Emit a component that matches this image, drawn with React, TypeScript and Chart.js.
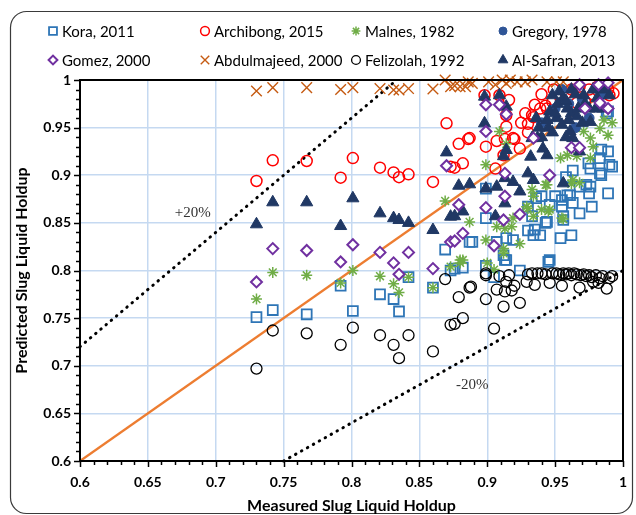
import React, { useEffect, useRef } from 'react';
import { Chart, registerables } from 'chart.js';
import * as helpers from 'chart.js/helpers';

Chart.register(...registerables);

type P = [number, number];

const kora: P[] = [
  [0.730, 0.751], [0.742, 0.7585], [0.767, 0.754], [0.792, 0.784], [0.801, 0.7575],
  [0.821, 0.775], [0.831, 0.770], [0.835, 0.757], [0.842, 0.793], [0.860, 0.782],
  [0.869, 0.822], [0.873, 0.800], [0.876, 0.802], [0.882, 0.803], [0.887, 0.830],
  [0.899, 0.805], [0.905, 0.793], [0.899, 0.855], [0.899, 0.886], [0.913, 0.811],
  [0.912, 0.816], [0.914, 0.834], [0.919, 0.832], [0.924, 0.800], [0.907, 0.830],
  [0.889, 0.830], [0.930, 0.842], [0.934, 0.837], [0.939, 0.837], [0.933, 0.857],
  [0.944, 0.851], [0.940, 0.878], [0.950, 0.878], [0.955, 0.874], [0.959, 0.879],
  [0.963, 0.871], [0.955, 0.867], [0.968, 0.860], [0.956, 0.857], [0.962, 0.837],
  [0.954, 0.834], [0.977, 0.867], [0.975, 0.881], [0.989, 0.881], [0.983, 0.902],
  [0.976, 0.907], [0.983, 0.918], [0.992, 0.909], [0.976, 0.888], [0.988, 0.965],
  [0.989, 0.925], [0.984, 0.927], [0.968, 0.888], [0.946, 0.811], [0.973, 0.890],
  [0.961, 0.879], [0.946, 0.869], [0.943, 0.850], [0.935, 0.843], [0.930, 0.867],
  [0.936, 0.876], [0.914, 0.811], [0.945, 0.809], [0.956, 0.853], [0.989, 0.967],
  [0.990, 0.911], [0.984, 0.900], [0.9745, 0.9125], [0.963, 0.905], [0.958, 0.898],
];

const archibong: P[] = [
  [0.730, 0.894], [0.742, 0.9157], [0.767, 0.915], [0.792, 0.8975], [0.801, 0.918],
  [0.821, 0.908], [0.831, 0.903], [0.835, 0.898], [0.842, 0.901], [0.860, 0.893],
  [0.870, 0.9545], [0.873, 0.909], [0.876, 0.908], [0.879, 0.933], [0.882, 0.9125],
  [0.886, 0.938], [0.887, 0.939], [0.899, 0.930], [0.906, 0.907], [0.907, 0.936],
  [0.913, 0.938], [0.920, 0.938], [0.924, 0.928], [0.914, 0.951], [0.912, 0.921],
  [0.914, 0.963], [0.916, 0.979], [0.909, 0.984], [0.898, 0.984], [0.930, 0.945],
  [0.930, 0.954], [0.933, 0.963], [0.934, 0.961], [0.935, 0.974], [0.939, 0.970],
  [0.943, 0.973], [0.944, 0.970], [0.948, 0.977], [0.949, 0.990], [0.954, 0.981],
  [0.958, 0.986], [0.966, 0.976], [0.968, 0.993], [0.972, 0.977], [0.981, 0.993],
  [0.982, 0.988], [0.989, 0.990], [0.990, 0.984], [0.993, 0.986], [0.919, 0.939],
  [0.925, 0.955], [0.928, 0.965], [0.940, 0.985], [0.962, 0.990], [0.975, 0.990],
  [0.978, 0.985],
];

const malnes: P[] = [
  [0.730, 0.770], [0.742, 0.798], [0.767, 0.795], [0.792, 0.787], [0.801, 0.800],
  [0.821, 0.794], [0.831, 0.786], [0.835, 0.777], [0.842, 0.793], [0.860, 0.782],
  [0.869, 0.873], [0.873, 0.804], [0.880, 0.811], [0.882, 0.811], [0.887, 0.851],
  [0.899, 0.911], [0.899, 0.832], [0.905, 0.801], [0.907, 0.846], [0.909, 0.946],
  [0.912, 0.823], [0.912, 0.818], [0.913, 0.844], [0.914, 0.933], [0.918, 0.846],
  [0.919, 0.855], [0.924, 0.828], [0.929, 0.867], [0.930, 0.865], [0.933, 0.885],
  [0.934, 0.878], [0.934, 0.857], [0.940, 0.864], [0.944, 0.890], [0.945, 0.862],
  [0.946, 0.864], [0.943, 0.890], [0.954, 0.918], [0.955, 0.855], [0.956, 0.854],
  [0.959, 0.921], [0.962, 0.891], [0.963, 0.895], [0.966, 0.920], [0.968, 0.892],
  [0.971, 0.946], [0.976, 0.918], [0.976, 0.939], [0.978, 0.930], [0.983, 0.949],
  [0.986, 0.958], [0.989, 0.942], [0.992, 0.955], [0.900, 0.808], [0.880, 0.808],
];

const gregory: P[] = [
  [0.950, 0.970], [0.960, 0.975], [0.970, 0.980], [0.975, 0.960], [0.985, 0.985],
  [0.940, 0.955], [0.955, 0.990], [0.965, 0.950],
];

const gomez: P[] = [
  [0.730, 0.788], [0.742, 0.823], [0.767, 0.821], [0.792, 0.809], [0.801, 0.827],
  [0.821, 0.819], [0.831, 0.808], [0.835, 0.796], [0.842, 0.819], [0.860, 0.802],
  [0.870, 0.910], [0.873, 0.830], [0.876, 0.831], [0.879, 0.869], [0.882, 0.839],
  [0.899, 0.866], [0.899, 0.946], [0.899, 0.974], [0.905, 0.826], [0.909, 0.974],
  [0.912, 0.853], [0.913, 0.878], [0.913, 0.902], [0.914, 0.964], [0.924, 0.859],
  [0.934, 0.939], [0.946, 0.900], [0.962, 0.929], [0.968, 0.929], [0.968, 0.995],
  [0.972, 0.970], [0.982, 0.995], [0.983, 0.976], [0.989, 0.997], [0.989, 0.970],
];

const abdulmajeed: P[] = [
  [0.730, 0.9885], [0.742, 0.992], [0.767, 0.992], [0.792, 0.990], [0.801, 0.992],
  [0.821, 0.991], [0.831, 0.9895], [0.835, 0.9895], [0.842, 0.991], [0.860, 0.9905],
  [0.869, 1.000], [0.873, 0.993], [0.876, 0.994], [0.880, 0.993], [0.884, 0.993],
  [0.886, 0.998], [0.889, 0.9965], [0.901, 0.998], [0.906, 0.995], [0.911, 1.000],
  [0.914, 0.9965], [0.917, 1.000], [0.922, 0.998], [0.928, 0.998], [0.933, 1.000],
  [0.944, 0.998], [0.951, 0.998], [0.956, 0.998],
];

const felizolah: P[] = [
  [0.730, 0.697], [0.742, 0.737], [0.767, 0.734], [0.792, 0.722], [0.801, 0.740],
  [0.821, 0.732], [0.831, 0.722], [0.835, 0.708], [0.842, 0.732], [0.860, 0.715],
  [0.869, 0.791], [0.873, 0.743], [0.876, 0.744], [0.879, 0.772], [0.882, 0.750],
  [0.887, 0.782], [0.888, 0.783], [0.899, 0.797], [0.899, 0.770], [0.899, 0.795],
  [0.905, 0.739], [0.907, 0.780], [0.909, 0.794], [0.912, 0.762], [0.913, 0.778],
  [0.914, 0.788], [0.916, 0.795], [0.918, 0.779], [0.920, 0.784], [0.924, 0.766],
  [0.929, 0.788], [0.930, 0.796], [0.933, 0.797], [0.935, 0.785], [0.937, 0.797],
  [0.940, 0.797], [0.943, 0.796], [0.946, 0.787], [0.948, 0.797], [0.951, 0.797],
  [0.953, 0.796], [0.955, 0.784], [0.956, 0.797], [0.958, 0.796], [0.960, 0.797],
  [0.962, 0.795], [0.964, 0.797], [0.966, 0.796], [0.968, 0.782], [0.969, 0.795],
  [0.971, 0.796], [0.973, 0.794], [0.975, 0.795], [0.977, 0.793], [0.978, 0.788],
  [0.980, 0.795], [0.982, 0.787], [0.983, 0.792], [0.985, 0.794], [0.988, 0.781],
  [0.990, 0.792], [0.992, 0.794],
];

const alSafran: P[] = [
  [0.730, 0.8485], [0.742, 0.8716], [0.767, 0.8716], [0.792, 0.8467], [0.801, 0.8758],
  [0.821, 0.860], [0.831, 0.855], [0.835, 0.853], [0.842, 0.850], [0.860, 0.8425],
  [0.870, 0.924], [0.873, 0.8565], [0.876, 0.857], [0.879, 0.889], [0.882, 0.862],
  [0.887, 0.8905], [0.898, 0.9825], [0.898, 0.9545], [0.899, 0.886], [0.906, 0.857],
  [0.907, 0.888], [0.909, 0.984], [0.912, 0.920], [0.913, 0.897], [0.913, 0.8705],
  [0.914, 0.972], [0.914, 0.9265], [0.919, 0.893], [0.924, 0.883], [0.930, 0.902],
  [0.932, 0.9195], [0.933, 0.939], [0.934, 0.895], [0.936, 0.960], [0.937, 0.939],
  [0.941, 0.928], [0.944, 0.921], [0.946, 0.967], [0.948, 0.984], [0.951, 0.960],
  [0.955, 0.953], [0.956, 0.981], [0.956, 0.8915], [0.959, 0.970], [0.961, 0.946],
  [0.963, 0.939], [0.968, 0.925], [0.971, 0.984], [0.976, 0.956], [0.981, 0.981],
  [0.990, 0.984], [0.952, 0.975], [0.962, 0.965], [0.967, 0.970], [0.975, 0.970],
  [0.985, 0.970], [0.970, 0.955], [0.958, 0.940], [0.945, 0.950], [0.940, 0.940],
  [0.953, 0.988], [0.962, 0.990], [0.958, 0.978], [0.965, 0.985], [0.972, 0.975],
  [0.978, 0.990], [0.950, 0.965], [0.944, 0.958], [0.938, 0.950], [0.960, 0.958],
  [0.966, 0.962], [0.980, 0.970], [0.986, 0.990], [0.948, 0.945],
];

const xTicks = [0.6, 0.65, 0.7, 0.75, 0.8, 0.85, 0.9, 0.95, 1];
const yTicks = [0.6, 0.65, 0.7, 0.75, 0.8, 0.85, 0.9, 0.95, 1];
const xTickLabels = ['0.6', '0.65', '0.7', '0.75', '0.8', '0.85', '0.9', '0.95', '1'];
const yTickLabels = ['0.6', '0.65', '0.7', '0.75', '0.8', '0.85', '0.9', '0.95', '1'];

const perfectLine: P[] = [[0.6, 0.6], [1, 1]];
const plus20Line: P[] = [[0.6, 0.72], [0.8333, 1]];
const minus20Line: P[] = [[0.75, 0.6], [1, 0.8]];

const xTitle = 'Measured Slug Liquid Holdup';
const yTitle = 'Predicted Slug Liquid Holdup';
const plusLabel = { text: '+20%', at: [0.683, 0.86] as P };
const minusLabel = { text: '-20%', at: [0.889, 0.68] as P };

type S = {
  name: string; data: P[]; style: string; color: string; fill: string;
  radius: number; bw: number; order: number;
};

const series: S[] = [
  { name: 'Kora, 2011', data: kora, style: 'rect', color: '#2E75B6', fill: 'rgba(0,0,0,0)', radius: 7, bw: 1.8, order: 8 },
  { name: 'Archibong, 2015', data: archibong, style: 'circle', color: '#FF0000', fill: 'rgba(0,0,0,0)', radius: 5.5, bw: 1.5, order: 7 },
  { name: 'Malnes, 1982', data: malnes, style: 'star', color: '#70AD47', fill: 'rgba(0,0,0,0)', radius: 5.5, bw: 1.5, order: 6 },
  { name: 'Gregory, 1978', data: gregory, style: 'circle', color: '#2F5597', fill: '#2F5597', radius: 5, bw: 1, order: 5 },
  { name: 'Gomez, 2000', data: gomez, style: 'rectRot', color: '#7030A0', fill: '#FFFFFF', radius: 5.5, bw: 2, order: 1 },
  { name: 'Abdulmajeed, 2000', data: abdulmajeed, style: 'crossRot', color: '#C55A11', fill: 'rgba(0,0,0,0)', radius: 7.5, bw: 1.4, order: 4 },
  { name: 'Felizolah, 1992', data: felizolah, style: 'circle', color: '#000000', fill: 'rgba(0,0,0,0)', radius: 5.5, bw: 1.3, order: 3 },
  { name: 'Al-Safran, 2013', data: alSafran, style: 'triangle', color: '#203864', fill: '#203864', radius: 7, bw: 1, order: 2 },
];

const legendCols = [53, 205, 356, 503];
const legendRows = [31, 60];

const TICK_FONT = 'bold 14px Lato';
const TITLE_FONT = 'bold 16px Lato';
const LEGEND_FONT = '15px Lato';

const decor = {
  id: 'decor',
  beforeDraw(chart: any) {
    const ctx = chart.ctx as CanvasRenderingContext2D;
    ctx.save();
    ctx.fillStyle = '#FFFFFF';
    ctx.fillRect(0, 0, chart.width, chart.height);
    ctx.strokeStyle = '#3a3a3a';
    ctx.lineWidth = 1.2;
    const x0 = 10.5, y0 = 11.5, x1 = 632.5, y1 = 513.5, r = 16;
    ctx.beginPath();
    ctx.moveTo(x0 + r, y0);
    ctx.lineTo(x1 - r, y0);
    ctx.arcTo(x1, y0, x1, y0 + r, r);
    ctx.lineTo(x1, y1 - r);
    ctx.arcTo(x1, y1, x1 - r, y1, r);
    ctx.lineTo(x0 + r, y1);
    ctx.arcTo(x0, y1, x0, y1 - r, r);
    ctx.lineTo(x0, y0 + r);
    ctx.arcTo(x0, y0, x0 + r, y0, r);
    ctx.stroke();
    ctx.restore();
  },
  afterDraw(chart: any) {
    const ctx = chart.ctx as CanvasRenderingContext2D;
    const xs = chart.scales.x;
    const ys = chart.scales.y;
    const a = chart.chartArea;
    ctx.save();
    ctx.strokeStyle = '#000';
    ctx.lineWidth = 2;
    ctx.strokeRect(a.left, a.top, a.right - a.left, a.bottom - a.top);
    ctx.lineWidth = 1.5;
    for (let i = 60; i <= 100; i++) {
      const v = i / 100;
      const major = i % 5 === 0;
      const len = major ? 6 : 4;
      const px = Math.round(xs.getPixelForValue(v)) + 0.5;
      ctx.beginPath();
      ctx.moveTo(px, a.bottom);
      ctx.lineTo(px, a.bottom + len);
      ctx.stroke();
      const py = Math.round(ys.getPixelForValue(v)) + 0.5;
      ctx.beginPath();
      ctx.moveTo(a.left, py);
      ctx.lineTo(a.left - len, py);
      ctx.stroke();
    }
    ctx.fillStyle = '#000';
    ctx.font = TICK_FONT;
    ctx.textBaseline = 'middle';
    ctx.textAlign = 'center';
    xTicks.forEach((v, i) => {
      ctx.fillText(xTickLabels[i], xs.getPixelForValue(v), a.bottom + 21);
    });
    ctx.textAlign = 'right';
    yTicks.forEach((v, i) => {
      ctx.fillText(yTickLabels[i], a.left - 9, ys.getPixelForValue(v));
    });
    ctx.font = TITLE_FONT;
    ctx.textAlign = 'center';
    ctx.fillText(xTitle, (a.left + a.right) / 2, 506);
    ctx.save();
    ctx.translate(22, (a.top + a.bottom) / 2);
    ctx.rotate(-Math.PI / 2);
    ctx.fillText(yTitle, 0, 0);
    ctx.restore();
    ctx.font = '15px "Liberation Serif"';
    ctx.fillStyle = '#333';
    ctx.fillText(plusLabel.text, xs.getPixelForValue(plusLabel.at[0]), ys.getPixelForValue(plusLabel.at[1]));
    ctx.fillText(minusLabel.text, xs.getPixelForValue(minusLabel.at[0]), ys.getPixelForValue(minusLabel.at[1]));
    ctx.font = LEGEND_FONT;
    ctx.textAlign = 'left';
    series.forEach((s, i) => {
      const cx = legendCols[i % 4];
      const cy = legendRows[Math.floor(i / 4)];
      ctx.save();
      ctx.strokeStyle = s.color;
      ctx.fillStyle = s.fill;
      ctx.lineWidth = s.bw;
      (helpers as any).drawPoint(ctx, { pointStyle: s.style, radius: s.radius * 0.8, rotation: 0, borderWidth: s.bw }, cx, cy);
      ctx.restore();
      ctx.fillStyle = '#000';
      ctx.fillText(s.name, cx + 9, cy + 1);
    });
    ctx.restore();
  },
};

export default function App() {
  const ref = useRef<HTMLCanvasElement | null>(null);
  useEffect(() => {
    if (!ref.current) return;
    const toXY = (d: P[]) => d.map(([x, y]) => ({ x, y }));
    const lineDs = (d: P[], color: string, width: number, dash: number[], cap: CanvasLineCap) => ({
      data: toXY(d),
      showLine: true,
      pointRadius: 0,
      borderColor: color,
      borderWidth: width,
      borderDash: dash,
      borderCapStyle: cap,
      fill: false,
      order: 10,
      clip: false as any,
    });
    const datasets: any[] = [
      lineDs(perfectLine, '#ED7D31', 2.2, [], 'butt'),
      lineDs(plus20Line, '#000000', 3, [0.5, 6.3], 'round'),
      lineDs(minus20Line, '#000000', 3, [0.5, 6.3], 'round'),
      ...series.map((s) => ({
        label: s.name,
        data: toXY(s.data),
        pointStyle: s.style,
        pointRadius: s.radius,
        pointBorderWidth: s.bw,
        pointBorderColor: s.color,
        pointBackgroundColor: s.fill,
        borderColor: s.color,
        backgroundColor: s.fill,
        showLine: false,
        order: s.order,
        clip: false,
      })),
    ];
    const chart = new Chart(ref.current, {
      type: 'scatter',
      data: { datasets },
      options: {
        animation: false,
        responsive: false,
        devicePixelRatio: 1,
        layout: { padding: { left: 80, top: 80, right: 13, bottom: 54 } },
        plugins: { legend: { display: false }, tooltip: { enabled: false } },
        events: [],
        scales: {
          x: {
            type: 'linear', min: 0.6, max: 1,
            ticks: { display: false, stepSize: 0.05 },
            grid: { color: '#C5D9F1', lineWidth: 1.5, drawTicks: false },
            border: { display: true, color: '#000', width: 2 },
          },
          y: {
            type: 'linear', min: 0.6, max: 1,
            ticks: { display: false, stepSize: 0.05 },
            grid: { color: '#C5D9F1', lineWidth: 1.5, drawTicks: false },
            border: { display: true, color: '#000', width: 2 },
          },
        },
      } as any,
      plugins: [decor as any],
    });
    return () => chart.destroy();
  }, []);
  return (
    <div style={{ position: 'fixed', left: 0, top: 0, width: 636, height: 515, background: '#fff' }}>
      <canvas ref={ref} width={636} height={515} style={{ width: 636, height: 515, display: 'block' }} />
    </div>
  );
}
